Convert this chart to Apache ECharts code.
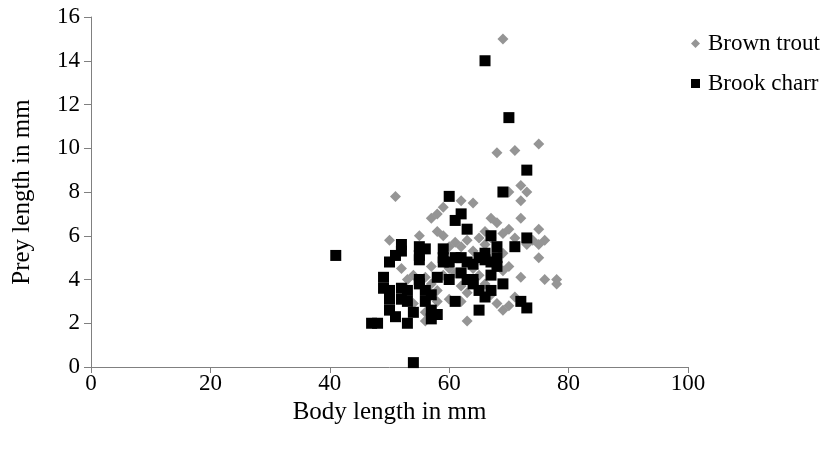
<!DOCTYPE html>
<html><head><meta charset="utf-8">
<script src="https://cdn.jsdelivr.net/npm/echarts@6/dist/echarts.min.js"></script>
<style>html,body{margin:0;padding:0;background:#fff}#c{width:826px;height:452px}</style>
</head><body><div id="c"></div>
<script>
const xTicks = [0, 20, 40, 60, 80, 100];
const yTicks = [0, 2, 4, 6, 8, 10, 12, 14, 16];
const brownTrout = [
  [69,15],[51,7.8],[75,10.2],[68,9.8],[71,9.9],[72,8.3],[73,8.0],[70,8.0],
  [58,7.0],[59,7.3],[62,7.6],[64,7.5],[57,6.8],
  [55,6.0],[50,5.8],[58,6.2],[59,6.0],[60,5.5],[62,5.5],[63,5.8],[65,5.9],[66,6.2],[67,6.8],[68,6.6],[69,6.1],[70,6.3],[71,5.9],[72,6.8],[72,7.6],[73,5.6],[74,5.8],[75,6.3],[75,5.6],[75,5.0],[76,5.8],[76,4.0],[78,4.0],[78,3.8],
  [52,4.5],[53,4.0],[54,4.2],[54,2.9],[56,4.1],[57,3.8],[58,3.5],[57,4.6],[60,4.5],[61,4.3],[62,3.7],[63,3.4],[64,4.5],[65,4.2],[66,3.8],[67,3.3],[68,2.9],[69,2.6],[70,2.8],[71,3.2],[72,4.1],[62,3.0],
  [63,2.1],[56,2.1],[56,2.5],[58,3.0],[59,4.2],[60,3.1],[64,5.3],[66,5.6],[69,5.2],[70,4.6],[69,4.4],[67,5.9],[61,5.7]
];
const brookCharr = [
  [41,5.1],[66,14],[70,11.4],[73,9.0],[69,8.0],[60,7.8],[62,7.0],[61,6.7],[63,6.3],
  [67,6.0],[73,5.9],[71,5.5],[52,5.6],[52,5.3],[51,5.1],
  [55,5.5],[56,5.4],[55,5.1],[55,4.9],[59,5.4],[59,5.0],[59,4.8],
  [60,4.8],[61,5.0],[62,5.0],[63,4.8],[64,4.7],[65,5.0],[66,5.2],[66,4.9],[67,4.8],[68,5.5],[68,5.0],[68,4.6],
  [50,4.8],[49,4.1],[49,3.6],[50,3.1],[50,3.5],[52,3.6],[52,3.1],[53,3.5],[53,3.0],
  [55,4.0],[55,3.8],[56,3.5],[57,3.3],[58,4.1],[56,3.0],[57,2.6],[58,2.4],
  [60,4.0],[62,4.3],[63,4.0],[64,3.8],[65,3.5],[66,3.2],[67,3.5],[69,3.8],[65,2.6],
  [61,3.0],[50,2.6],[51,2.3],[53,2.0],[54,2.5],[47,2.0],[48,2.0],[57,2.2],
  [54,0.2],[72,3.0],[73,2.7],[64,4.0],[67,4.2]
];
const font = '"Liberation Serif", "Times New Roman", serif';
const FS = 23;
const NFS = 25;
const chart = echarts.init(document.getElementById('c'), null, {renderer:'canvas'});
chart.setOption({
  animation: false,
  textStyle: {fontFamily: font},
  grid: {left: 91, right: 138, top: 17, bottom: 85},
  legend: {
    orient: 'vertical', left: 686, top: 27, itemGap: 17, itemWidth: 9, itemHeight: 9,
    textStyle: {fontFamily: font, fontSize: FS, color: '#000', padding: [0,0,0,3]},
    data: ['Brown trout', 'Brook charr']
  },
  xAxis: {
    type: 'value', min: xTicks[0], max: xTicks[xTicks.length-1], interval: 20,
    name: 'Body length in mm', nameLocation: 'middle', nameGap: 30,
    nameTextStyle: {fontFamily: font, fontSize: NFS, color: '#000'},
    axisLine: {show: true, lineStyle: {color: '#808080', width: 1}},
    axisTick: {show: true, inside: false, length: 6, lineStyle: {color: '#808080'}},
    axisLabel: {fontFamily: font, fontSize: FS, color: '#000', margin: 5},
    splitLine: {show: false}
  },
  yAxis: {
    type: 'value', min: yTicks[0], max: yTicks[yTicks.length-1], interval: 2,
    name: 'Prey length in mm', nameLocation: 'middle', nameGap: 56,
    nameTextStyle: {fontFamily: font, fontSize: NFS, color: '#000'},
    axisLine: {show: true, lineStyle: {color: '#808080', width: 1}},
    axisTick: {show: true, inside: false, length: 7, lineStyle: {color: '#808080'}},
    axisLabel: {fontFamily: font, fontSize: FS, color: '#000', margin: 11},
    splitLine: {show: false}
  },
  series: [
    {name: 'Brown trout', type: 'scatter', symbol: 'diamond', symbolSize: 11,
     itemStyle: {color: '#959595', opacity: 1}, data: brownTrout},
    {name: 'Brook charr', type: 'scatter', symbol: 'rect', symbolSize: 11,
     itemStyle: {color: '#000', opacity: 1}, data: brookCharr}
  ]
});
</script></body></html>
